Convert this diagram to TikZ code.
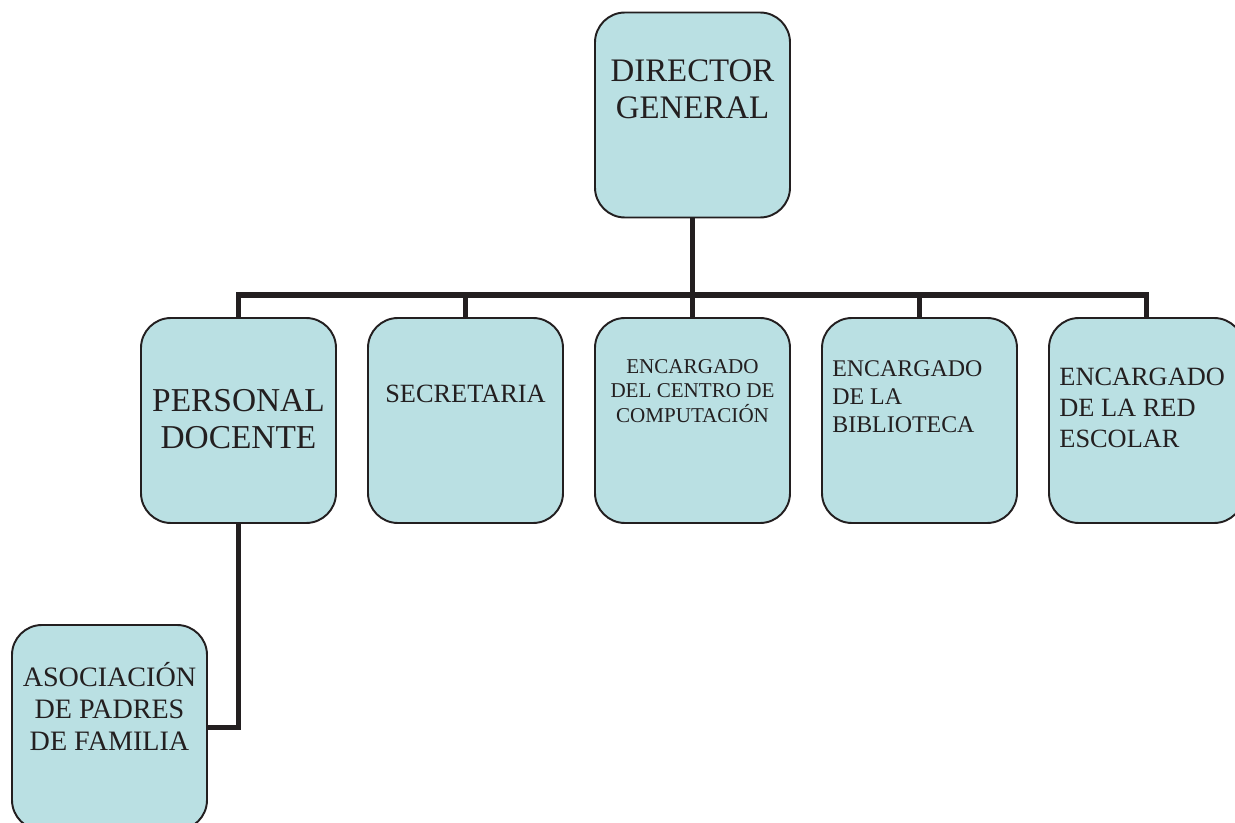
\documentclass[tikz,border=0pt]{standalone}
\usepackage{fontspec}
\setmainfont{Liberation Serif}
\definecolor{boxfill}{RGB}{186,224,227}
\definecolor{linecol}{RGB}{35,31,32}

\tikzset{
	cargo/.style={draw=linecol, line width=1.1pt, fill=boxfill, rounded corners=0.6cm, minimum width=3.9cm, minimum height=4.1cm},
	rotulo/.style={inner sep=0pt, text=linecol},
	enlace/.style={draw=linecol, line width=3.4pt},
}

\begin{document}
\begin{tikzpicture}
				\useasboundingbox (0,0) rectangle (24.7,-16.46);
				\clip (0,0) rectangle (24.7,-16.46);
				% boxes
				\node[cargo] (dir)at(13.85, -2.3) {};
				\node[cargo] (pd)at(4.77, -8.41) {};
				\node[cargo] (sec)at(9.31, -8.41) {};
				\node[cargo] (comp)at(13.85, -8.41) {};
				\node[cargo] (bib)at(18.39, -8.41) {};
				\node[cargo] (red)at(22.93, -8.41) {};
				\node[cargo] (apf)at(2.19, -14.55) {};
				% texts
				\node[rotulo, anchor=north, align=center, font=\fontsize{18.7}{21}\selectfont] (tdir)at([yshift=-0.96cm]dir.north) {DIRECTOR\\GENERAL};
				\node[rotulo, anchor=north, align=center, font=\fontsize{19}{21}\selectfont] (tpd)at([yshift=-1.44cm]pd.north) {PERSONAL\\DOCENTE};
				\node[rotulo, anchor=north, align=center, font=\fontsize{15}{17}\selectfont] (tsec)at([yshift=-1.36cm]sec.north) {SECRETARIA};
				\node[rotulo, anchor=north, align=center, font=\fontsize{12}{14}\selectfont] (tcomp)at([yshift=-0.84cm]comp.north) {ENCARGADO\\DEL CENTRO DE\\COMPUTACIÓN};
				\node[rotulo, anchor=north west, align=left, font=\fontsize{13.6}{15.9}\selectfont] (tbib)at([xshift=0.22cm, yshift=-0.86cm]bib.north west) {ENCARGADO\\DE LA\\BIBLIOTECA};
				\node[rotulo, anchor=north west, align=left, font=\fontsize{15}{17.6}\selectfont] (tred)at([xshift=0.22cm, yshift=-1.02cm]red.north west) {ENCARGADO\\DE LA RED\\ESCOLAR};
				\node[rotulo, anchor=north, align=center, font=\fontsize{16}{18.2}\selectfont] (tapf)at([yshift=-0.76cm]apf.north) {ASOCIACIÓN\\DE PADRES\\DE FAMILIA};
				% connectors
				\coordinate (bus)at(13.85, -5.9);
				\draw[enlace] (dir.south) -- (dir.south |- bus);
				\draw[enlace] (pd.north) |- (red.north |- bus) -- (red.north);
				\foreach \n in {sec, comp, bib}
					\draw[enlace] (\n.north) -- (\n.north |- bus);
				\draw[enlace] (pd.south) |- (apf.east);
			\end{tikzpicture}
\end{document}
